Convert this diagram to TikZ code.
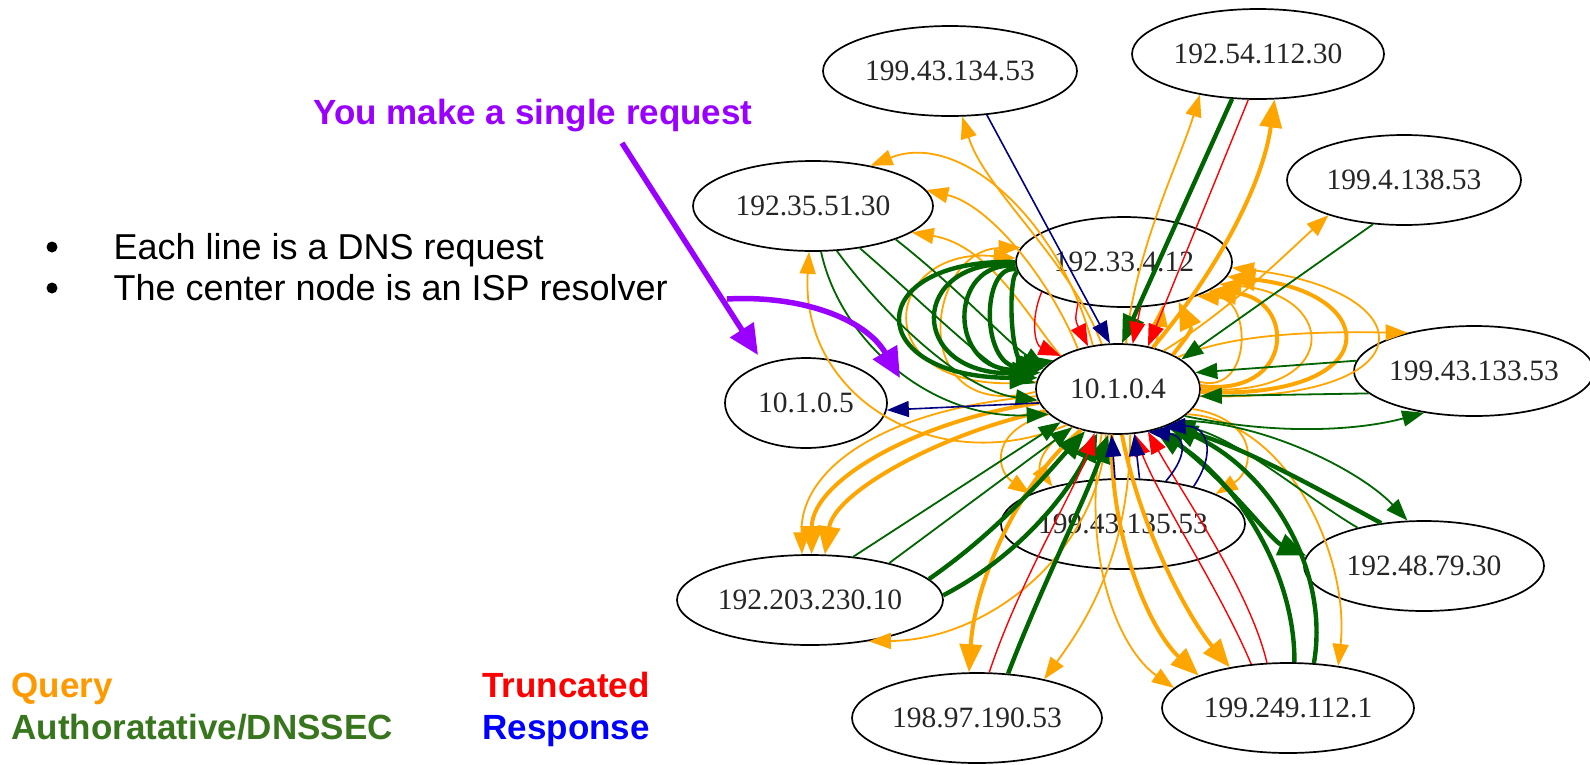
\documentclass[tikz,border=0pt]{standalone}
\usepackage{fontspec}
\setmainfont{Liberation Serif}
\newfontfamily\sansfam{Liberation Sans}
\usetikzlibrary{arrows.meta,shapes.geometric}
\definecolor{qcol}{HTML}{FFA500}
\definecolor{gcol}{HTML}{006400}
\definecolor{rcol}{HTML}{FF0000}
\definecolor{ncol}{HTML}{000080}
\definecolor{purp}{HTML}{9900FF}
\definecolor{legq}{HTML}{FF9900}
\definecolor{legg}{HTML}{38761D}
\definecolor{legr}{HTML}{FF0000}
\definecolor{legb}{HTML}{0000FF}
\tikzset{
  nd/.style={ellipse, draw=black, line width=1.7pt, fill=white, inner sep=0pt,
    minimum height=90pt, text=black!85, font=\fontsize{29.5}{31}\selectfont},
  thinhead/.style={-{Triangle[length=22pt,width=16pt]}},
  thickhead/.style={-{Triangle[length=28pt,width=22pt]}},
  qt/.style={draw=qcol, line width=1.8pt, thinhead},
  qT/.style={draw=qcol, line width=4pt, thickhead},
  gt/.style={draw=gcol, line width=1.8pt, thinhead},
  gT/.style={draw=gcol, line width=4.4pt, thickhead},
  rt/.style={draw=rcol, line width=1.4pt, thinhead},
  nt/.style={draw=ncol, line width=1.6pt, thinhead},
  parr/.style={draw=purp, line width=5.5pt, -{Triangle[length=30pt,width=27pt]}},
  bigtxt/.style={anchor=base west, font=\sansfam\fontsize{36}{40}\selectfont},
  boldtxt/.style={anchor=base west, font=\sansfam\bfseries\fontsize{35}{40}\selectfont},
  dot/.style={circle, fill=black, inner sep=0pt, minimum size=11pt}
}
\begin{document}
\begin{tikzpicture}[x=1pt,y=-1pt]
\fill[white] (0,0) rectangle (1590,764);
\useasboundingbox (0,0) rectangle (1590,764);

% ---------- hosts ----------
\node[nd, minimum width=164pt] (A) at (1118,389) {10.1.0.4};
\node[nd, minimum width=216pt] (B) at (1124,262) {192.33.4.12};
\node[nd, minimum width=244pt] (C) at (1123,524) {199.43.135.53};
\node[nd, minimum width=254pt] (D) at (950,71) {199.43.134.53};
\node[nd, minimum width=252pt] (E) at (1258,54) {192.54.112.30};
\node[nd, minimum width=234pt] (F) at (1404,180) {199.4.138.53};
\node[nd, minimum width=240pt] (G) at (813,206) {192.35.51.30};
\node[nd, minimum width=162pt] (H) at (806,403) {10.1.0.5};
\node[nd, minimum width=240pt] (I) at (1474,371) {199.43.133.53};
\node[nd, minimum width=240pt] (J) at (1424,566) {192.48.79.30};
\node[nd, minimum width=252pt] (K) at (1288,708) {199.249.112.1};
\node[nd, minimum width=250pt] (L) at (977,718) {198.97.190.53};
\node[nd, minimum width=266pt] (M) at (810,600) {192.203.230.10};

% ---------- queries (orange) ----------
\draw[qt] (A.110) .. controls (1070,260) and (985,190) .. (D.285);
\draw[qt] (A.80) .. controls (1135,250) and (1180,160) .. (E.215);
\draw[qT] (A.50) .. controls (1210,280) and (1262,190) .. (E.290);
\draw[qt] (A.40) .. controls (1230,310) and (1290,250) .. (F.205);
\draw[qt] (A.120) .. controls (1060,220) and (960,130) .. (G.35);
\draw[qt] (A.135) .. controls (1050,280) and (990,205) .. (G.8);
\draw[qt] (A.150) .. controls (1030,320) and (990,245) .. (G.345);
\draw[qt] (A.215) .. controls (940,480) and (800,400) .. (G.265);
\draw[qt] (A.175) .. controls (860,400) and (880,245) .. (B.178);
\draw[qt] (A.182) .. controls (905,425) and (925,250) .. (B.172);
% loops from the resolver back up to 192.33.4.12
\draw[qt] (A.5) .. controls (1252,395) and (1252,300) .. (B.335);
\draw[qT] (A.2) .. controls (1296,397) and (1296,298) .. (B.341);
\draw[qt] (A.0) .. controls (1341,399) and (1341,296) .. (B.347);
\draw[qT] (A.358) .. controls (1385,401) and (1385,294) .. (B.352);
\draw[qt] (A.355) .. controls (1429,403) and (1429,292) .. (B.357);
\draw[qt] (A.48) .. controls (1160,325) .. (B.312);
\draw[qT] (A.32) .. controls (1192,330) .. (B.324);
\draw[qt] (A.28) .. controls (1240,330) and (1340,332) .. (I.150);
% down to 199.249.112.1
\draw[qt] (A.250) .. controls (1080,560) and (1120,650) .. (K.170);
\draw[qT] (A.262) .. controls (1110,540) and (1150,630) .. (K.160);
\draw[qT] (A.275) .. controls (1140,530) and (1190,620) .. (K.145);
\draw[qt] (A.340) .. controls (1290,420) and (1350,560) .. (K.40);
% down to 198.97.190.53
\draw[qT] (A.228) .. controls (1020,480) and (975,580) .. (L.100);
\draw[qt] (A.285) .. controls (1130,560) and (1080,630) .. (L.30);
% down-left to 192.203.230.10
\draw[qt] (A.185) .. controls (880,410) and (800,470) .. (M.100);
\draw[qT] (A.190) .. controls (920,420) and (812,480) .. (M.88);
\draw[qT] (A.197) .. controls (950,430) and (835,490) .. (M.72);
\draw[qt] (A.255) .. controls (1100,550) and (990,640) .. (M.325);
% to 199.43.135.53
\draw[qt] (A.200) .. controls (990,430) and (995,470) .. (C.162);
\draw[qt] (A.220) .. controls (1035,450) and (1040,470) .. (C.152);
\draw[qt] (A.345) .. controls (1260,420) and (1255,470) .. (C.18);

% ---------- authoritative / DNSSEC (green) ----------
\draw[gt] (G.280) .. controls (840,340) and (930,420) .. (A.200);
\draw[gt] (G.298) .. controls (880,310) and (960,390) .. (A.188);
\draw[gt] (G.318) .. controls (920,300) and (990,370) .. (A.176);
\draw[gt] (G.338) .. controls (960,290) and (1010,345) .. (A.163);
\draw[gT] (B.180) .. controls (861,258) and (861,378) .. (A.172);
\draw[gT] (B.181) .. controls (907,258) and (907,376) .. (A.168);
\draw[gT] (B.182) .. controls (947,260) and (947,374) .. (A.164);
\draw[gT] (B.184) .. controls (980,262) and (980,372) .. (A.160);
\draw[gT] (B.186) .. controls (1008,264) and (1008,370) .. (A.156);
\draw[gT] (E.240) -- (A.85);
\draw[gt] (F.235) -- (A.25);
\draw[gt] (I.175) -- (A.12);
\draw[gt] (I.192) -- (A.355);
\draw[gt] (A.338) .. controls (1280,436) and (1360,430) .. (I.220);
\draw[gt] (A.332) .. controls (1260,420) and (1360,470) .. (J.110);
\draw[gT] (J.135) .. controls (1320,490) and (1240,445) .. (A.322);
\draw[gT] (A.315) .. controls (1220,470) and (1270,540) .. (J.175);
\draw[gt] (J.150) .. controls (1310,500) and (1240,440) .. (A.328);
\draw[gT] (K.82) .. controls (1295,570) and (1235,480) .. (A.312);
\draw[gT] (K.60) .. controls (1330,570) and (1270,470) .. (A.325);
\draw[gT] (L.55) .. controls (1040,590) and (1085,500) .. (A.258);
\draw[gt] (M.45) -- (A.210);
\draw[gt] (M.25) -- (A.220);
\draw[gT] (M.10) .. controls (1000,530) and (1050,470) .. (A.232);
\draw[gT] (M.2) .. controls (1030,550) and (1075,480) .. (A.245);

% ---------- truncated (red) ----------
\draw[rt] (E.258) -- (A.55);
\draw[rt] (B.200) .. controls (1030,320) and (1035,345) .. (A.150);
\draw[rt] (B.222) .. controls (1075,320) .. (A.125);
\draw[rt] (B.290) -- (A.72);
\draw[rt] (K.130) .. controls (1220,590) and (1160,500) .. (A.290);
\draw[rt] (K.115) .. controls (1250,590) and (1180,490) .. (A.305);
\draw[rt] (L.75) .. controls (1020,580) and (1075,490) .. (A.242);

% ---------- responses (navy) ----------
\draw[nt] (D.310) -- (A.100);
\draw[nt] (C.100) -- (A.262);
\draw[nt] (C.70) -- (A.290);
\draw[nt] (C.45) .. controls (1192,450) and (1182,435) .. (A.305);
\draw[nt] (C.28) .. controls (1218,450) and (1206,425) .. (A.320);
\draw[nt] (A.190) -- (H.355);

% ---------- annotations ----------
\node[dot] (b1) at (52,247) {};
\node[dot] (b2) at (52,288) {};
\node[bigtxt] (t1) at (110,259) {Each line is a DNS request};
\node[bigtxt] (t2) at (110,300) {The center node is an ISP resolver};
\node[boldtxt, text=purp] (title) at (310,124) {You make a single request};

\coordinate (pA) at (622,143);
\coordinate (pB) at (758,355);
\coordinate (pF) at (727,299);
\coordinate (pC) at (900,378);
\draw[parr] (pA) -- (pB);
\draw[parr] (pF) .. controls (800,295) and (865,318) .. (pC);

\node[boldtxt, text=legq] (lq) at (8,697) {Query};
\node[boldtxt, text=legg] (lg) at (8,739) {Authoratative/DNSSEC};
\node[boldtxt, text=legr] (lr) at (479,697) {Truncated};
\node[boldtxt, text=legb] (lb) at (479,739) {Response};
\end{tikzpicture}
\end{document}
